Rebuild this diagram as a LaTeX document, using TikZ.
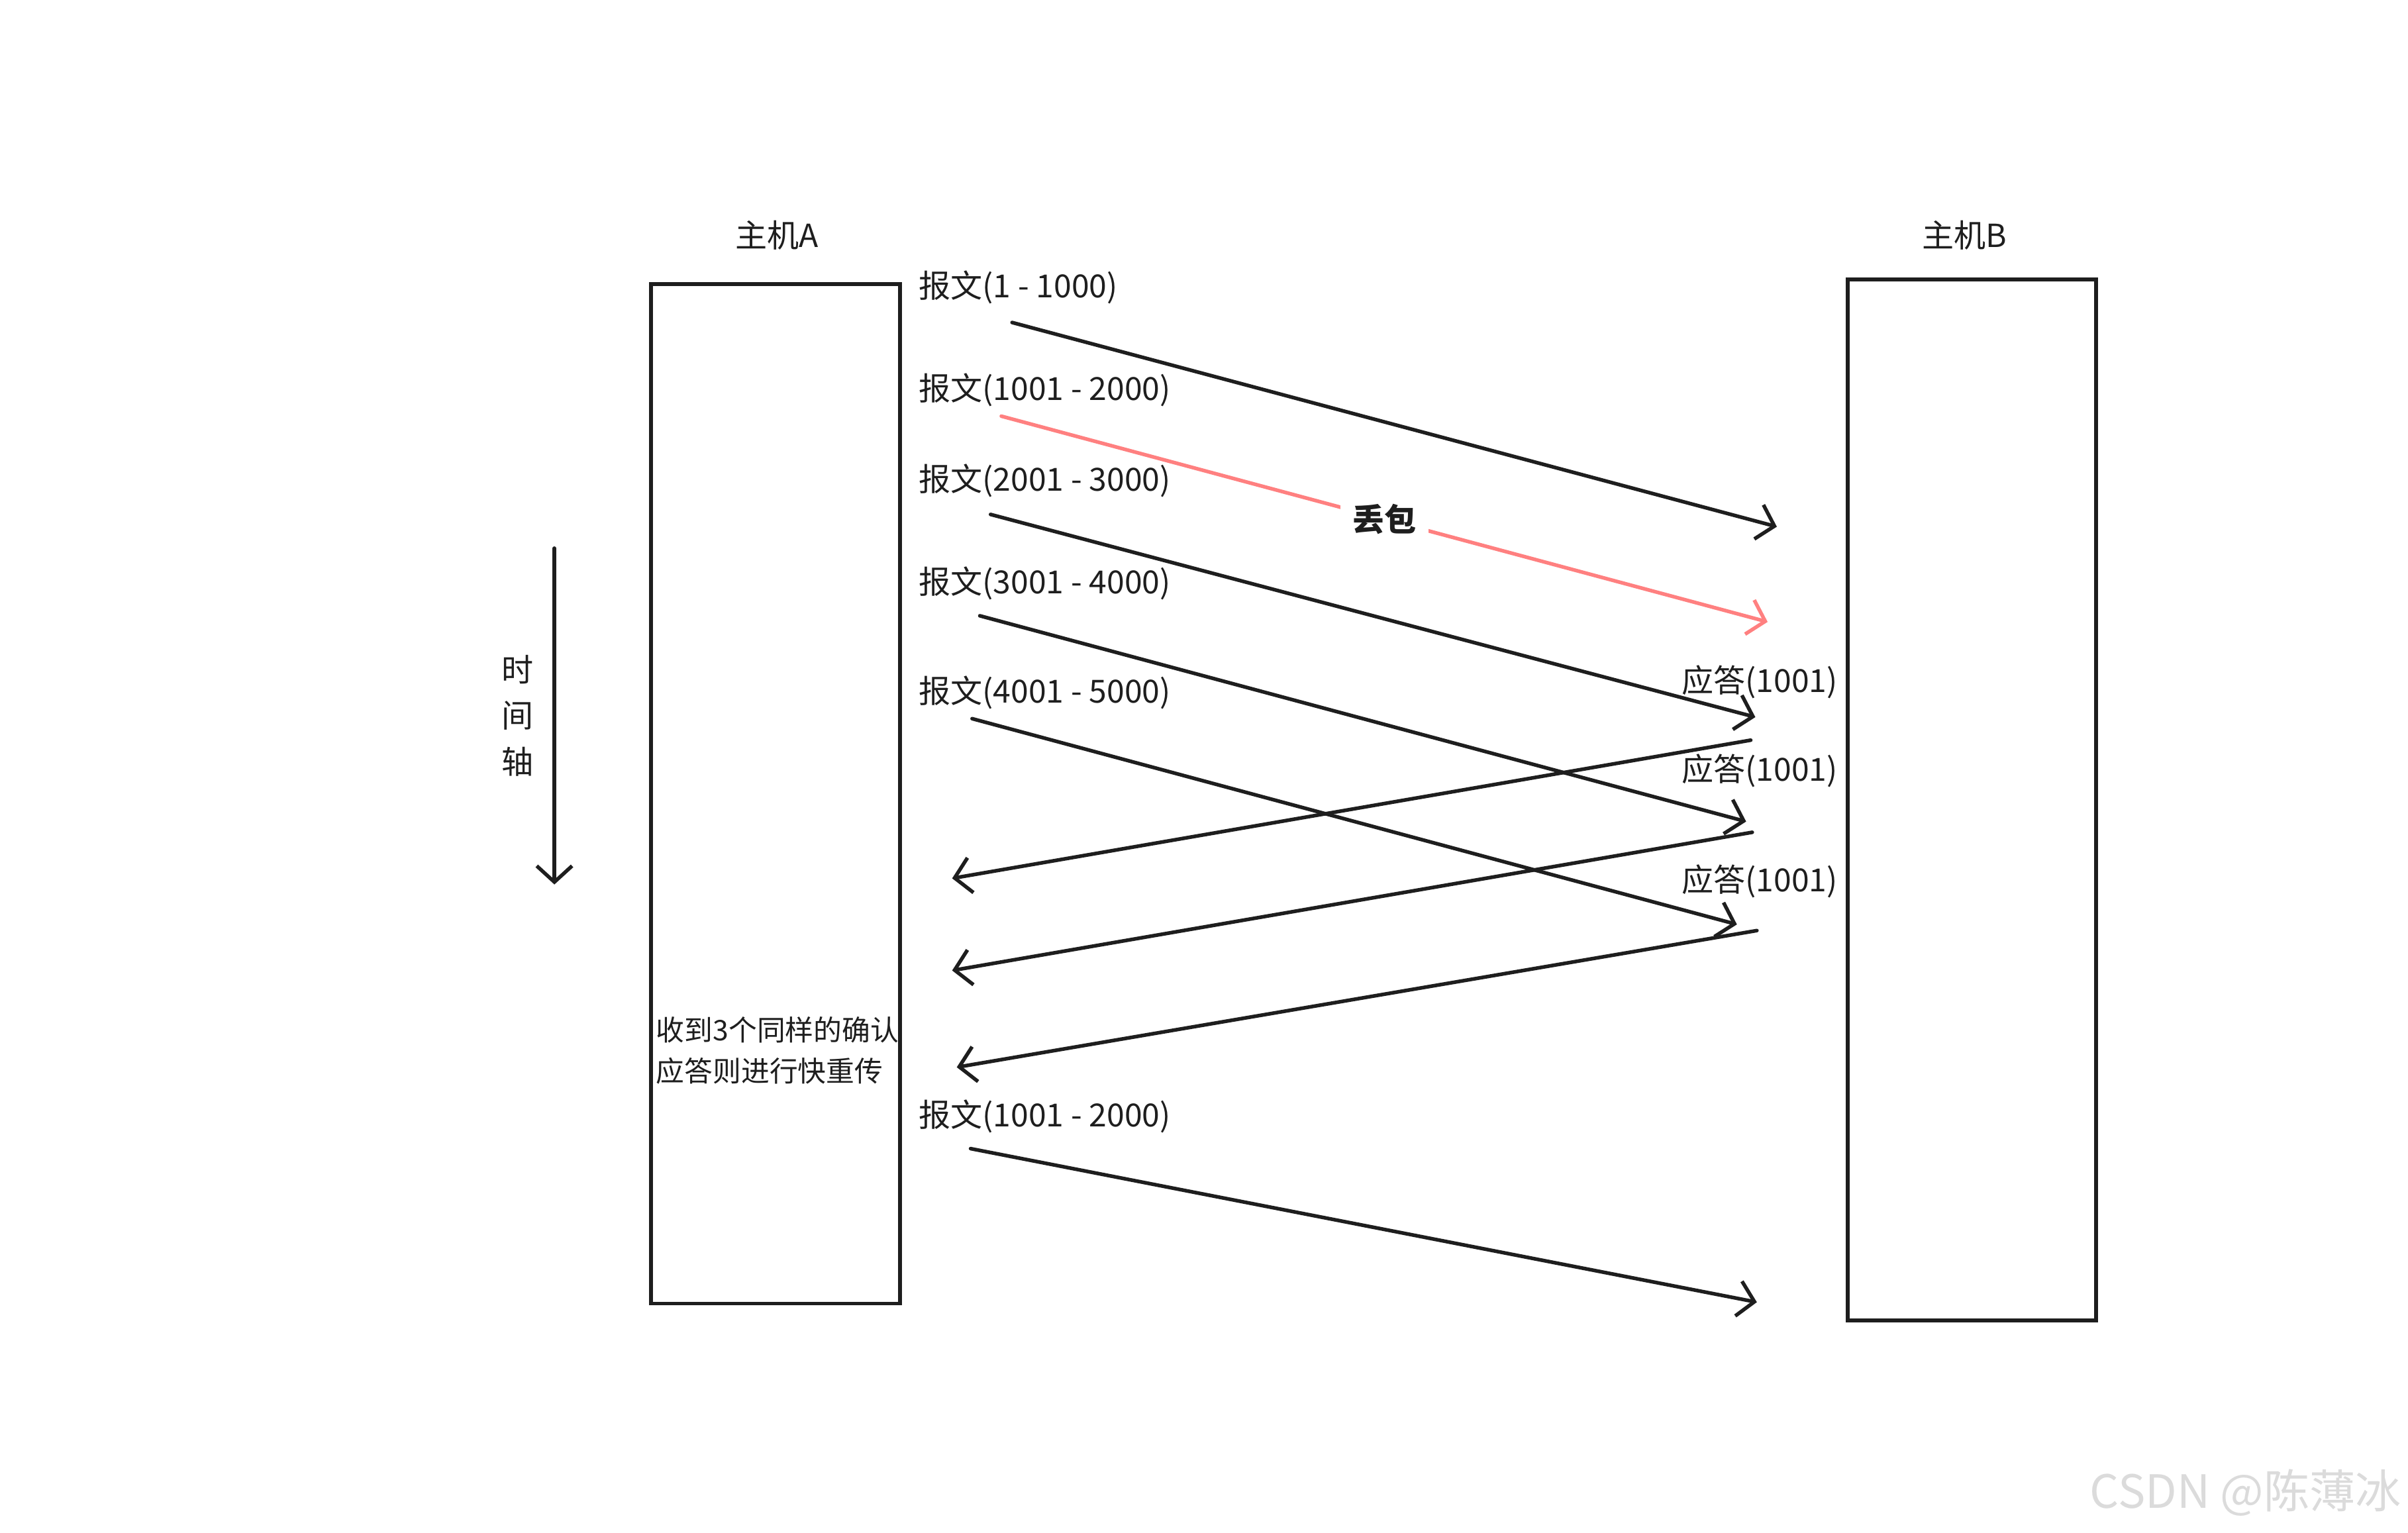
\documentclass[tikz,border=0pt]{standalone}
\usepackage{fontspec}
\newfontfamily\cjk{Noto Sans CJK SC}
\usetikzlibrary{arrows.meta}
\definecolor{ink}{HTML}{1E1E1E}
\definecolor{lossred}{HTML}{FF8080}

\begin{document}
\begin{tikzpicture}[x=0.02cm, y=-0.02cm,
  host/.style={draw=ink, line width=1.4pt, minimum width=3.24cm, inner sep=0pt},
  hostlbl/.style={font=\cjk\fontsize{11.8}{14}\selectfont, text=ink, inner sep=0pt},
  msg/.style={font=\cjk\fontsize{11.8}{14}\selectfont, text=ink, anchor=west, inner sep=0pt},
  ack/.style={msg, anchor=east},
  arr/.style={-{Straight Barb[length=2.1mm, width=4.6mm]}, line width=1.35pt, draw=ink, line cap=round},
  lossarr/.style={arr, draw=lossred}
]
  \useasboundingbox (0,0) rectangle (1568,998);

  % hosts
  \node[host, minimum height=13.28cm] (hostA) at (505,517) {};
  \node[host, minimum height=13.56cm] (hostB) at (1284,521) {};
  \node[hostlbl] (lblA) at (506,153) {主机A};
  \node[hostlbl] (lblB) at (1279,153) {主机B};

  % time axis
  \coordinate (t0) at (361,357);
  \coordinate (t1) at (361,576);
  \draw[arr] (t0) -- (t1);
  \node[hostlbl, align=center, font=\cjk\fontsize{11.8}{17}\selectfont] (tlbl) at (337,466) {时\\间\\轴};

  % segments sent by A
  \node[msg] (m1) at (598,187) {报文(1 - 1000)};
  \node[msg] (m2) at (598,254) {报文(1001 - 2000)};
  \node[msg] (m3) at (598,313) {报文(2001 - 3000)};
  \node[msg] (m4) at (598,380) {报文(3001 - 4000)};
  \node[msg] (m5) at (598,451) {报文(4001 - 5000)};
  \node[msg] (m6) at (598,727) {报文(1001 - 2000)};

  \coordinate (m1s) at (659,210);  \coordinate (m1e) at (1157,343);
  \coordinate (m2s) at (652,271);  \coordinate (m2e) at (1151,405);
  \coordinate (m3s) at (645,335);  \coordinate (m3e) at (1143,467);
  \coordinate (m4s) at (638,401);  \coordinate (m4e) at (1137,535);
  \coordinate (m5s) at (633,468);  \coordinate (m5e) at (1131,602);
  \coordinate (m6s) at (632,748);  \coordinate (m6e) at (1144,848);

  \draw[arr] (m1s) -- (m1e);
  \draw[lossarr] (m2s) -- node[fill=white, inner sep=4.5pt, text=ink,
    font=\cjk\bfseries\fontsize{11.8}{14}\selectfont] (loss) {丢包} (m2e);
  \draw[arr] (m3s) -- (m3e);
  \draw[arr] (m4s) -- (m4e);
  \draw[arr] (m5s) -- (m5e);
  \draw[arr] (m6s) -- (m6e);

  % duplicate acks from B
  \node[ack] (a1) at (1197,444) {应答(1001)};
  \node[ack] (a2) at (1197,502) {应答(1001)};
  \node[ack] (a3) at (1197,574) {应答(1001)};

  \coordinate (a1s) at (1140,482);  \coordinate (a1e) at (620,572);
  \coordinate (a2s) at (1141,542);  \coordinate (a2e) at (620,632);
  \coordinate (a3s) at (1144,606);  \coordinate (a3e) at (623,695);

  \draw[arr] (a1s) -- (a1e);
  \draw[arr] (a2s) -- (a2e);
  \draw[arr] (a3s) -- (a3e);

  \node[msg, align=left, font=\cjk\fontsize{10.5}{15.3}\selectfont] (note) at (427,684)
    {收到3个同样的确认\\应答则进行快重传};

  % watermark
  \node[inner sep=0pt, text=black!14, font=\cjk\fontsize{17}{17}\selectfont, anchor=east] (wm)
    at (1564,972) {CSDN @陈薄冰};
\end{tikzpicture}
\end{document}
